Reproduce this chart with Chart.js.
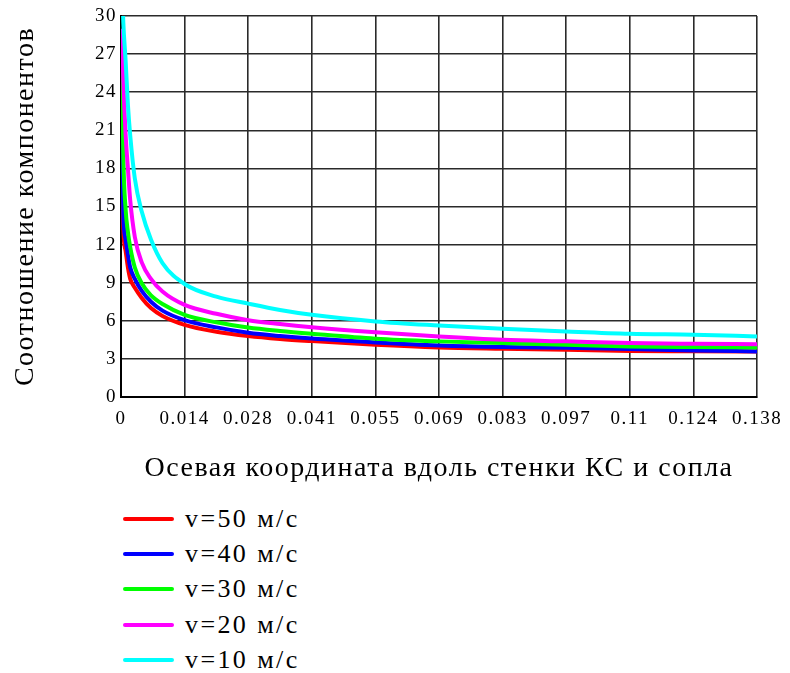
<!DOCTYPE html>
<html><head><meta charset="utf-8">
<script src="https://cdn.jsdelivr.net/npm/chart.js@4"></script>
<style>
html,body{margin:0;padding:0;background:#fff;}
#wrap{position:relative;width:790px;height:673px;overflow:hidden;}
#c{position:absolute;left:0;top:0;}
#legend{position:absolute;left:123px;top:501px;font-family:"Liberation Serif",serif;font-size:26px;letter-spacing:2.4px;color:#000;}
.item{display:flex;align-items:center;height:35.3px;white-space:nowrap;}
.sw{width:51px;height:4px;margin-right:11px;border-radius:2px;}
</style></head>
<body><div id="wrap"><canvas id="c" width="790" height="500" style="width:790px;height:500px"></canvas><div id="legend"></div></div>
<script>
const xValues = [0.0002, 0.0005, 0.001, 0.0015, 0.002, 0.003, 0.0045, 0.0065, 0.009, 0.0138, 0.0207, 0.0276, 0.0345, 0.0414, 0.0552, 0.069, 0.0828, 0.0966, 0.1104, 0.1242, 0.138];
const v50 = [20, 13.3, 11.5, 10.2, 9.3, 8.6, 7.8, 7.0, 6.38, 5.68, 5.14, 4.8, 4.57, 4.4, 4.11, 3.9, 3.8, 3.72, 3.62, 3.6, 3.58];
const v40 = [22.6, 14.5, 12.4, 11.2, 10.2, 9.3, 8.35, 7.5, 6.8, 6.05, 5.48, 5.06, 4.8, 4.6, 4.3, 4.06, 3.93, 3.87, 3.78, 3.67, 3.59];
const v30 = [27.3, 19, 14.8, 13, 11.8, 10.2, 8.95, 8.0, 7.32, 6.47, 5.88, 5.47, 5.2, 4.98, 4.59, 4.38, 4.25, 4.11, 3.98, 3.93, 3.9];
const v20 = [29, 25, 20.7, 18, 15.5, 12.6, 10.6, 9.3, 8.3, 7.25, 6.55, 6.05, 5.75, 5.5, 5.1, 4.77, 4.51, 4.38, 4.25, 4.19, 4.15];
const v10 = [33, 29.5, 26.5, 23, 20.6, 17.2, 14.6, 12.4, 10.55, 8.9, 7.9, 7.35, 6.85, 6.47, 5.95, 5.63, 5.37, 5.16, 4.98, 4.9, 4.77];
const seriesValues = [v50, v40, v30, v20, v10];
const seriesLabels = ['v=50 м/с', 'v=40 м/с', 'v=30 м/с', 'v=20 м/с', 'v=10 м/с'];
const seriesColors = ['#ff0000', '#0000ff', '#00ff00', '#ff00ff', '#00ffff'];
const xTickLabels = ['0', '0.014', '0.028', '0.041', '0.055', '0.069', '0.083', '0.097', '0.11', '0.124', '0.138'];
const yTicks = [0, 3, 6, 9, 12, 15, 18, 21, 24, 27, 30];
const xTitle = 'Осевая координата вдоль стенки КС и сопла';
const yTitle = 'Соотношение компонентов';

const datasets = seriesValues.map((vals, i) => ({
  label: seriesLabels[i],
  data: vals.map((v, j) => ({x: xValues[j], y: v})),
  borderColor: seriesColors[i],
  backgroundColor: seriesColors[i],
  borderWidth: 4,
  pointRadius: 0,
  fill: false,
  cubicInterpolationMode: 'monotone',
  order: seriesValues.length - i
}));

const spacingPlugin = {
  id: 'spacing',
  beforeDraw(chart) { try { chart.ctx.letterSpacing = '1.5px'; } catch (e) {} }
};

const gridColor = '#2a2a2a';
new Chart(document.getElementById('c'), {
  type: 'line',
  data: {datasets},
  plugins: [spacingPlugin],
  options: {
    responsive: false,
    animation: false,
    devicePixelRatio: 1,
    layout: {padding: {left: 0, top: 16, right: 33, bottom: 0}},
    plugins: {legend: {display: false}, tooltip: {enabled: false}},
    scales: {
      x: {
        type: 'linear', min: 0, max: 0.138,
        afterFit: (a) => { a.height = 103; },
        afterBuildTicks: (a) => { a.ticks = xTickLabels.map((t, i) => ({value: i * 0.138 / (xTickLabels.length - 1)})); },
        ticks: {
          callback: (v, i) => xTickLabels[i],
          font: {family: 'Liberation Serif', size: 19}, color: '#000', padding: 11, maxRotation: 0, autoSkip: false
        },
        grid: {color: gridColor, lineWidth: 1.6, drawTicks: false},
        border: {color: '#000', width: 2},
        title: {display: true, text: xTitle, color: '#000', font: {family: 'Liberation Serif', size: 28}, padding: {top: 0, bottom: 15}}
      },
      y: {
        type: 'linear', min: 0, max: 30,
        afterFit: (a) => { a.width = 121; },
        afterBuildTicks: (a) => { a.ticks = yTicks.map(v => ({value: v})); },
        ticks: {
          font: {family: 'Liberation Serif', size: 19}, color: '#000', padding: 4, autoSkip: false
        },
        grid: {color: gridColor, lineWidth: 1.6, drawTicks: false},
        border: {color: '#000', width: 2},
        title: {display: true, text: yTitle, color: '#000', font: {family: 'Liberation Serif', size: 28}, padding: {top: 9, bottom: 0}}
      }
    }
  }
});

const lg = document.getElementById('legend');
seriesLabels.forEach((t, i) => {
  const it = document.createElement('div'); it.className = 'item';
  const sw = document.createElement('span'); sw.className = 'sw'; sw.style.background = seriesColors[i];
  const tx = document.createElement('span'); tx.textContent = t;
  it.appendChild(sw); it.appendChild(tx); lg.appendChild(it);
});
</script>
</body></html>
